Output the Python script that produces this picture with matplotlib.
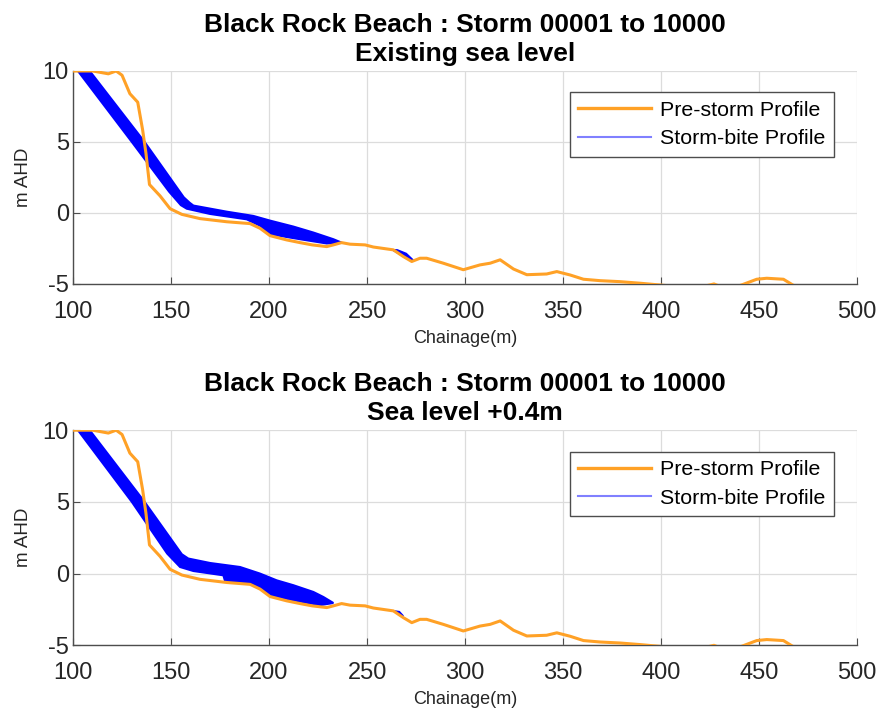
import numpy as np
import matplotlib
matplotlib.use("Agg")
import matplotlib.pyplot as plt
from matplotlib.lines import Line2D

plt.rcParams['font.family'] = ['Liberation Sans', 'DejaVu Sans']
plt.rcParams['axes.unicode_minus'] = False

#--------------- Data ---------------
# Pre-storm profile (same in both panels)
pre_x = [100, 110, 118, 122, 125, 129, 133, 135.5, 137.2, 139, 144.4, 149.5, 155.5,
         164.8, 178.4, 190.3, 195.4, 200.5, 209, 215.8, 222, 229.4, 232.8, 237, 241.3,
         249, 253.2, 263.4, 268.5, 272.8, 277, 280.4, 288.9, 299.1, 307.6, 312.8,
         317.9, 324.7, 331.5, 341.6, 346.8, 353.6, 360.4, 368.9, 379.1, 389.3,
         404.6, 415, 427, 434, 441.1, 448.8, 453.9, 462.4, 467.5, 480, 500]
pre_y = [10, 10, 9.8, 10, 9.7, 8.4, 7.8, 5.85, 4.2, 2.0, 1.2, 0.3, -0.1,
         -0.4, -0.62, -0.75, -1.08, -1.6, -1.9, -2.09, -2.25, -2.37, -2.25, -2.09, -2.2,
         -2.25, -2.4, -2.6, -3.07, -3.42, -3.19, -3.19, -3.54, -4.0, -3.66, -3.54,
         -3.3, -3.95, -4.35, -4.3, -4.13, -4.37, -4.67, -4.77, -4.84, -4.95,
         -5.14, -5.4, -5.0, -5.4, -5.07, -4.67, -4.6, -4.67, -5.1, -5.6, -5.9]

# Storm-bite envelope, existing sea level (upper = landward-most line)
bite1_up_x = [100, 108.5, 136.5, 156.5, 159.5, 161.4, 178.4, 192, 200.5, 212.4, 222.6, 232.8, 237]
bite1_up_y = [10.3, 10, 5.0, 1.1, 0.72, 0.52, 0.09, -0.21, -0.54, -0.96, -1.38, -1.85, -2.09]
bite1_lo_x = [102.5, 130, 149, 155, 158, 169.9, 188.6, 195.4, 200.5, 215.8, 229.4, 237]
bite1_lo_y = [10, 5.0, 1.5, 0.55, 0.3, -0.07, -0.45, -0.9, -1.5, -1.85, -2.15, -2.09]
bite1b_x = [262.5, 265.5, 270, 273.8, 270, 266]
bite1b_y = [-2.58, -2.6, -2.85, -3.35, -3.2, -2.85]

# Storm-bite envelope, sea level +0.4m
bite2_up_x = [100, 108.5, 136.5, 155.5, 158.8, 169.9, 185.2, 195.4, 203.9, 212.4, 222.6, 227.7, 232.8]
bite2_up_y = [10.3, 10, 5.0, 1.35, 1.05, 0.74, 0.46, 0.0, -0.47, -0.81, -1.28, -1.63, -2.05]
bite2_lo_x = [102.5, 130, 148, 154.6, 161.4, 176.7, 177.5, 188.6, 195.4, 200.5, 212.4, 226, 232.8]
bite2_lo_y = [10, 5.0, 1.4, 0.46, 0.18, -0.12, -0.5, -0.6, -1.0, -1.5, -1.86, -2.2, -2.05]
bite2b_x = [264, 266.5, 268.5, 266]
bite2b_y = [-2.6, -2.65, -2.95, -2.85]

titles = ['Black Rock Beach : Storm 00001 to 10000\nExisting sea level',
          'Black Rock Beach : Storm 00001 to 10000\nSea level +0.4m']

orange = '#FFA126'
blue = '#0000FF'
dark = '#262626'


def draw_panel(ax, up_x, up_y, lo_x, lo_y, small_x, small_y, title):
    poly_x = list(up_x) + list(lo_x)[::-1]
    poly_y = list(up_y) + list(lo_y)[::-1]
    ax.fill(poly_x, poly_y, color=blue, lw=1.5, zorder=2)
    ax.fill(small_x, small_y, color=blue, lw=1.0, zorder=2)
    ax.plot(pre_x, pre_y, color=orange, lw=2.2, zorder=3)

    ax.set_xlim(100, 500)
    ax.set_ylim(-5, 10)
    ax.set_xticks([100, 150, 200, 250, 300, 350, 400, 450, 500])
    ax.set_yticks([-5, 0, 5, 10])
    ax.grid(True, color='#DCDCDC', lw=0.9)
    ax.set_axisbelow(True)
    for s in ['top', 'right']:
        ax.spines[s].set_visible(False)
    for s in ['left', 'bottom']:
        ax.spines[s].set_color('#4D4D4D')
        ax.spines[s].set_linewidth(1.0)
    ax.tick_params(direction='in', length=5, labelsize=17, colors='#4D4D4D',
                   labelcolor=dark)
    ax.tick_params(axis='x', pad=12)
    ax.tick_params(axis='y', pad=3)
    ax.set_xlabel('Chainage(m)', fontsize=13, color=dark, labelpad=5)
    ax.set_ylabel('m AHD', fontsize=13.5, color=dark, labelpad=8)
    ax.set_title(title, fontsize=19, fontweight='bold', color='black', pad=7,
                 linespacing=1.3)

    handles = [Line2D([], [], color=orange, lw=2.4),
               Line2D([], [], color='#8080FF', lw=1.5)]
    leg = ax.legend(handles, ['Pre-storm Profile', 'Storm-bite Profile'],
                    loc='upper right', bbox_to_anchor=(0.97, 0.9), fontsize=15.4,
                    fancybox=False, framealpha=1, edgecolor='#4D4D4D',
                    handlelength=3.4, borderpad=0.4, labelspacing=0.45,
                    handletextpad=0.4, borderaxespad=0)
    leg.get_frame().set_linewidth(1.0)


fig = plt.figure(figsize=(8.8, 7.17), dpi=100)
ax1 = fig.add_axes([0.083, 0.604, 0.891, 0.297])
ax2 = fig.add_axes([0.083, 0.100, 0.891, 0.300])

draw_panel(ax1, bite1_up_x, bite1_up_y, bite1_lo_x, bite1_lo_y, bite1b_x, bite1b_y, titles[0])
draw_panel(ax2, bite2_up_x, bite2_up_y, bite2_lo_x, bite2_lo_y, bite2b_x, bite2b_y, titles[1])

fig.savefig('out.png', dpi=100)
